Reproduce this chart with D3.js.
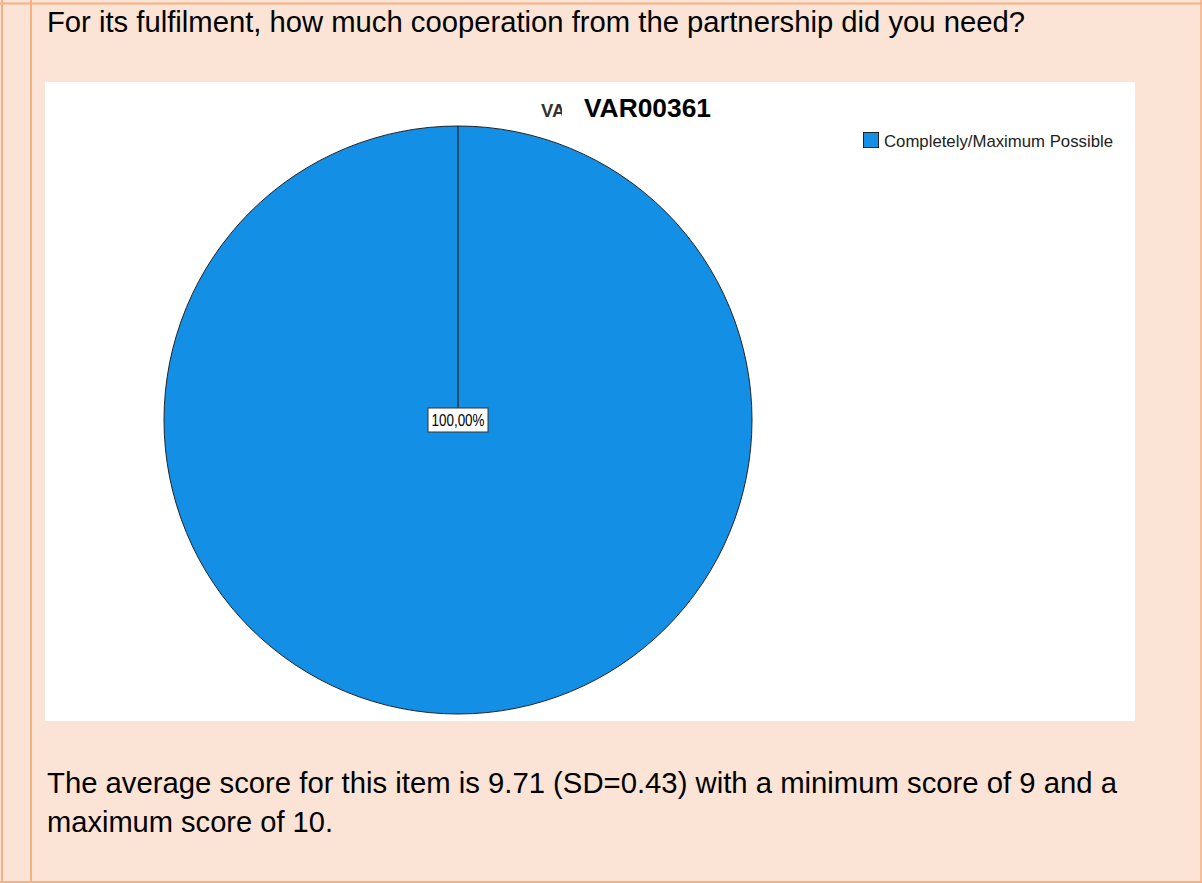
<!DOCTYPE html>
<html><head><meta charset="utf-8">
<script src="https://cdn.jsdelivr.net/npm/d3@7"></script>
<style>html,body{margin:0;padding:0;background:#FBE4D5;overflow:hidden}</style>
</head><body>
<svg id="c" width="1202" height="883"></svg>
<script>
const categories = ["Completely/Maximum Possible"];
const values = [100];
const labels = ["100,00%"];
const colors = ["#1390E6"];
const chartTitle = "VAR00361";
const question = "For its fulfilment, how much cooperation from the partnership did you need?";
const notes = ["The average score for this item is 9.71 (SD=0.43) with a minimum score of 9 and a", "maximum score of 10."];

const svg = d3.select("#c");
const font = "'Liberation Sans', Arial, sans-serif";
svg.append("rect").attr("x",0).attr("y",0).attr("width",1202).attr("height",883).attr("fill","#FBE4D5");
const bc = "#F4B183";
// table borders
svg.append("line").attr("x1",0).attr("x2",1202).attr("y1",3.5).attr("y2",3.5).attr("stroke",bc).attr("stroke-width",2);
svg.append("line").attr("x1",0).attr("x2",1202).attr("y1",882).attr("y2",882).attr("stroke",bc).attr("stroke-width",2);
svg.append("line").attr("x1",2).attr("x2",2).attr("y1",0).attr("y2",883).attr("stroke",bc).attr("stroke-width",2);
svg.append("line").attr("x1",31).attr("x2",31).attr("y1",0).attr("y2",883).attr("stroke",bc).attr("stroke-width",2);
svg.append("line").attr("x1",1201).attr("x2",1201).attr("y1",0).attr("y2",883).attr("stroke",bc).attr("stroke-width",1.5);

svg.append("text").attr("x",47).attr("y",32).attr("font-family",font).attr("font-size",29).attr("fill","#000")
  .attr("textLength",978).attr("lengthAdjust","spacingAndGlyphs").text(question);

// chart panel
svg.append("rect").attr("x",45).attr("y",82).attr("width",1090).attr("height",639).attr("fill","#fff");

const cx = 458, cy = 420, r = 294;
const pie = d3.pie().sort(null).value(d=>d)(values);
const arc = d3.arc().innerRadius(0).outerRadius(r);
const g = svg.append("g").attr("transform",`translate(${cx},${cy})`);
g.selectAll("path").data(pie).join("path").attr("d",arc).attr("fill",(d,i)=>colors[i]).attr("stroke","#222").attr("stroke-width",1);
g.append("line").attr("x1",0).attr("y1",0).attr("x2",0).attr("y2",-r).attr("stroke","#222").attr("stroke-width",1.2);

// label
pie.forEach((d,i)=>{
  const lb = g.append("g");
  lb.append("rect").attr("x",-30).attr("y",-12).attr("width",60).attr("height",24).attr("fill","#fff").attr("stroke","#333").attr("stroke-width",1);
  lb.append("text").attr("x",0).attr("y",6).attr("text-anchor","middle").attr("font-family",font).attr("font-size",16).attr("fill","#000")
    .attr("textLength",53).attr("lengthAdjust","spacingAndGlyphs").text(labels[i]);
});

// title with clipped ghost
svg.append("defs").append("clipPath").attr("id","gc").append("rect").attr("x",530).attr("y",95).attr("width",32).attr("height",30);
svg.append("text").attr("x",541).attr("y",117).attr("font-family",font).attr("font-size",18.5).attr("font-weight","bold").attr("fill","#333")
  .attr("clip-path","url(#gc)").text("VA");
svg.append("text").attr("x",584).attr("y",117).attr("font-family",font).attr("font-size",25).attr("font-weight","bold").attr("fill","#000")
  .attr("textLength",127).attr("lengthAdjust","spacingAndGlyphs").text(chartTitle);

// legend
categories.forEach((c,i)=>{
  svg.append("rect").attr("x",863.5).attr("y",132.5+i*20).attr("width",15).attr("height",15).attr("fill",colors[i]).attr("stroke","#222").attr("stroke-width",1);
  svg.append("text").attr("x",884).attr("y",146.5+i*20).attr("font-family",font).attr("font-size",17).attr("fill","#222")
    .attr("textLength",229).attr("lengthAdjust","spacingAndGlyphs").text(c);
});

const nl = [1070, 286];
notes.forEach((t,i)=>{
  svg.append("text").attr("x",47).attr("y",793+i*39).attr("font-family",font).attr("font-size",29).attr("fill","#000")
    .attr("textLength",nl[i]).attr("lengthAdjust","spacingAndGlyphs").text(t);
});
</script>
</body></html>
